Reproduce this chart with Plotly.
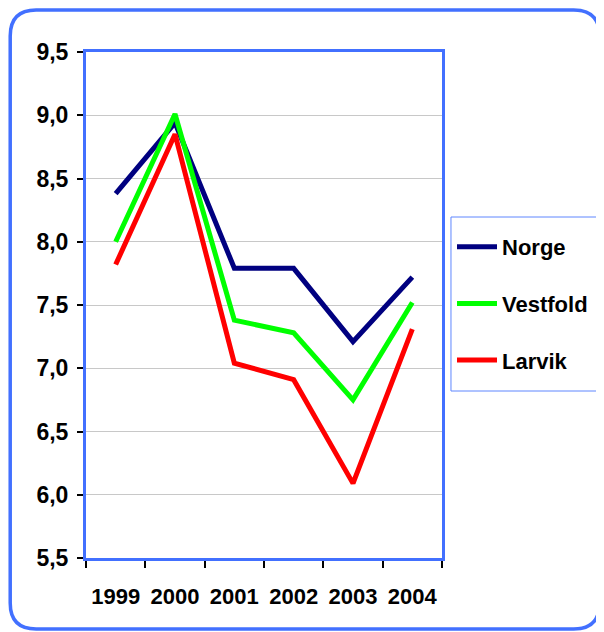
import plotly.graph_objects as go

# data
years = ["1999", "2000", "2001", "2002", "2003", "2004"]
norge = [8.38, 8.94, 7.79, 7.79, 7.21, 7.72]
vestfold = [8.00, 9.01, 7.38, 7.28, 6.75, 7.52]
larvik = [7.82, 8.85, 7.04, 6.91, 6.09, 7.31]

series_names = ["Norge", "Vestfold", "Larvik"]
series_colors = ["#000080", "#00FF00", "#FF0000"]

# page body has an 8px margin, so the figure is drawn 8px in from the window corner
OFF = 8
W, H = 604 - OFF, 632 - OFF
L, R, T, B = 86, 443, 52, 558  # plot area in window pixels
BLUE = "#4270FF"
FONT = "Arial, Liberation Sans, sans-serif"


def px(x):
	return (x - L) / (R - L)


def py(y):
	return (B - y) / (B - T)


fig = go.Figure()
for name, vals, col in zip(series_names, [norge, vestfold, larvik], series_colors):
	fig.add_trace(go.Scatter(
		x=years, y=vals, name=name, mode="lines",
		line=dict(color=col, width=5),
		legendgroup=name,
	))

# rounded outer frame
x0, x1, y0, y1, r = 10, 601, 10, 629, 26
path = (
	f"M {px(x0 + r)},{py(y0)} L {px(x1 - r)},{py(y0)} "
	f"Q {px(x1)},{py(y0)} {px(x1)},{py(y0 + r)} "
	f"L {px(x1)},{py(y1 - r)} Q {px(x1)},{py(y1)} {px(x1 - r)},{py(y1)} "
	f"L {px(x0 + r)},{py(y1)} Q {px(x0)},{py(y1)} {px(x0)},{py(y1 - r)} "
	f"L {px(x0)},{py(y0 + r)} Q {px(x0)},{py(y0)} {px(x0 + r)},{py(y0)} Z"
)
fig.add_shape(type="path", path=path, xref="paper", yref="paper",
			  line=dict(color=BLUE, width=3.5), layer="below")

# legend box
fig.add_shape(type="rect", xref="paper", yref="paper",
			  x0=px(452), x1=px(606), y0=py(391), y1=py(217),
			  line=dict(color="#5F86FF", width=1), fillcolor="white", layer="below")

fig.update_layout(
	width=W, height=H,
	margin=dict(l=L - OFF, r=W - (R - OFF), t=T - OFF, b=H - (B - OFF)),
	paper_bgcolor="white", plot_bgcolor="white",
	separators=",.",
	showlegend=True,
	legend=dict(
		x=px(452), y=py(226), xanchor="left", yanchor="top",
		borderwidth=0, bgcolor="rgba(0,0,0,0)",
		font=dict(family=FONT, size=22, color="black", weight="bold"),
		tracegroupgap=25, traceorder="grouped",
		itemwidth=40,
	),
)

fig.update_xaxes(
	type="category", tickson="boundaries", tickangle=0, automargin=False,
	showline=True, linecolor=BLUE, linewidth=3, mirror=True,
	ticks="outside", ticklen=7, tickcolor="black", tickwidth=1.5,
	showgrid=False, ticklabelstandoff=17,
	tickfont=dict(family=FONT, size=22, color="black", weight="bold"),
	range=[-0.5, 5.5],
)
fig.update_yaxes(
	range=[5.5, 9.5], dtick=0.5, tickformat=".1f", automargin=False,
	showline=True, linecolor=BLUE, linewidth=3, mirror=True,
	ticks="outside", ticklen=6, tickcolor="black", tickwidth=1.5,
	showgrid=True, gridcolor="#C8C8C8", gridwidth=1,
	tickfont=dict(family=FONT, size=23, color="black", weight="bold"),
	ticklabelstandoff=4, zeroline=False,
)

fig.write_html("out.html")
